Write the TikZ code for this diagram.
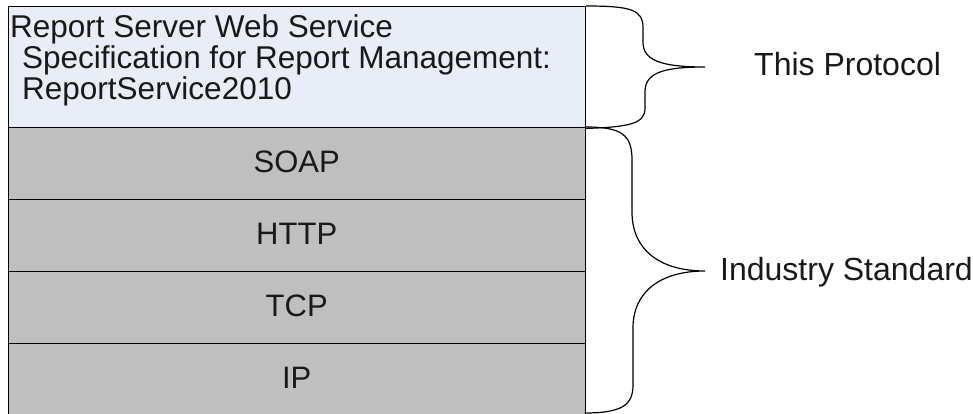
\documentclass[tikz,border=0pt]{standalone}
\usepackage{fontspec}
\setmainfont{Liberation Sans}
\definecolor{topfill}{RGB}{232,237,247}
\definecolor{layergray}{RGB}{191,191,191}
\definecolor{txt}{RGB}{25,25,25}
\begin{document}
\begin{tikzpicture}[x=1pt,y=-1pt,
  layer/.style={draw=black, line width=1.4pt, minimum width=577pt, minimum height=72pt,
    inner sep=0pt, anchor=north west, fill=layergray, text=txt,
    font=\fontsize{31}{36}\selectfont, text height=22pt, text depth=5pt},
  lbl/.style={inner sep=0pt, text=txt, font=\fontsize{32}{36}\selectfont},
  toptext/.style={inner sep=0pt, text=txt, anchor=base west, font=\fontsize{31.5}{36}\selectfont},
  bracepath/.style={draw=black, line width=1.2pt}]
\useasboundingbox (0,0) rectangle (973,414);
\fill[white] (0,0) rectangle (973,414);
% layers
\node[layer, fill=topfill, minimum height=121pt] (top) at (7.5,6) {};
\node[layer] (soap) at (7.5,127) {SOAP};
\node[layer] (http) at (7.5,199) {HTTP};
\node[layer] (tcp) at (7.5,271) {TCP};
\node[layer, minimum height=76pt, text height=22pt, text depth=8pt] (ip) at (7.5,343) {IP};
% top box text
\node[toptext] (t1) at (10,37.5) {Report Server Web Service};
\node[toptext] (t2) at (22,68.5) {Specification for Report Management:};
\node[toptext] (t3) at (22,99.5) {ReportService2010};
% brace coordinates
\coordinate (b1s) at (top.north east);
\coordinate (b1e) at (top.south east);
\coordinate (b1t) at (705,67);
\coordinate (b2s) at (soap.north east);
\coordinate (b2e) at (584.5,413);
\coordinate (b2t) at (705,271);
% braces
\draw[bracepath] (b1s) .. controls (632,6) and (643,10) .. (643,28) -- (643,42)
  .. controls (643,60) and (660,67) .. (b1t)
  .. controls (660,67) and (645,74) .. (645,92) -- (645,108)
  .. controls (645,123) and (632,127) .. (b1e);
\draw[bracepath] (b2s) .. controls (622,127) and (632,135) .. (632,160) -- (632,212)
  .. controls (632,250) and (660,271) .. (b2t)
  .. controls (660,271) and (633,292) .. (633,328) -- (633,385)
  .. controls (633,405) and (622,413) .. (b2e);
% labels
\node[lbl, anchor=base west] (proto) at (754,76) {This Protocol};
\node[lbl, anchor=base west] (indus) at (720,280) {Industry Standard};
\end{tikzpicture}
\end{document}
